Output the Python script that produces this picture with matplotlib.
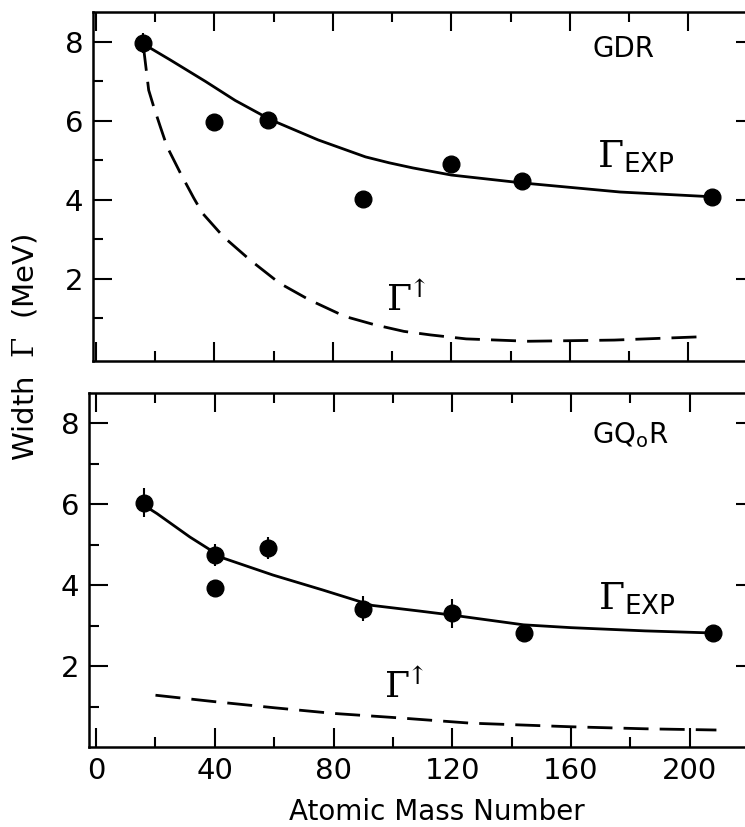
import matplotlib
matplotlib.use("Agg")
import matplotlib.pyplot as plt
from matplotlib.ticker import MultipleLocator, FixedLocator

plt.rcParams['font.family'] = ['DejaVu Sans']
plt.rcParams['mathtext.fontset'] = 'dejavuserif'

# GDR panel (top)
gdr_mass = [16, 40, 58, 90, 120, 144, 208]
gdr_width = [7.98, 5.98, 6.02, 4.03, 4.92, 4.47, 4.08]
gdr_err = [0.25, 0.2, 0.12, 0.0, 0.12, 0.0, 0.0]

gdr_exp_x = [16, 25, 37, 47, 59, 75, 91, 99, 107, 120, 144, 177, 208]
gdr_exp_y = [7.95, 7.55, 7.0, 6.52, 6.03, 5.52, 5.09, 4.94, 4.81, 4.63, 4.43, 4.2, 4.08]

gdr_up_x = [16, 17.8, 19.5, 21.7, 24, 28.5, 33, 36, 43, 52, 62, 72, 84, 94, 104, 113, 125, 146, 175, 203]
gdr_up_y = [7.9, 6.78, 6.36, 5.86, 5.35, 4.68, 4.05, 3.66, 3.07, 2.48, 1.89, 1.47, 1.05, 0.84, 0.67, 0.58, 0.48, 0.42, 0.45, 0.53]

# GQoR panel (bottom)
gqr_mass = [16, 40, 40, 58, 90, 120, 144, 208]
gqr_width = [6.04, 4.75, 3.92, 4.92, 3.42, 3.3, 2.83, 2.81]
gqr_err = [0.36, 0.27, 0.2, 0.27, 0.3, 0.37, 0.2, 0.15]

gqr_exp_x = [16, 20.5, 31.6, 42.8, 59.6, 76.4, 93, 109, 120, 144, 160, 185, 207]
gqr_exp_y = [5.98, 5.77, 5.19, 4.67, 4.25, 3.88, 3.5, 3.36, 3.26, 3.02, 2.95, 2.87, 2.82]

gqr_up_x = [20, 40, 60, 80, 102, 126, 160, 185, 209]
gqr_up_y = [1.28, 1.12, 0.97, 0.83, 0.72, 0.59, 0.5, 0.45, 0.42]

x_ticks = [0, 40, 80, 120, 160, 200]
y_ticks = [2, 4, 6, 8]

W, H = 745, 827
fig = plt.figure(figsize=(W / 100, H / 100), dpi=100)
ax1 = fig.add_axes([93 / W, 1 - 361 / H, (755 - 93) / W, (361 - 12) / H])
ax2 = fig.add_axes([89 / W, 1 - 747 / H, (755 - 89) / W, (747 - 393) / H])


def style(ax, xlim, ylim, labels):
    ax.set_xlim(*xlim)
    ax.set_ylim(*ylim)
    ax.xaxis.set_major_locator(FixedLocator(x_ticks))
    ax.xaxis.set_minor_locator(MultipleLocator(20))
    ax.yaxis.set_major_locator(FixedLocator(y_ticks))
    ax.yaxis.set_minor_locator(FixedLocator([1, 3, 5, 7]))
    ax.tick_params(which='both', direction='in', top=True, right=True, width=1.5)
    ax.tick_params(which='major', length=14, labelsize=21, pad=7)
    ax.tick_params(which='minor', length=7)
    if not labels:
        ax.tick_params(axis='x', labelbottom=False)
    for s in ax.spines.values():
        s.set_linewidth(1.8)


# top panel
ax1.plot(gdr_exp_x, gdr_exp_y, '-', color='k', lw=2)
ax1.plot(gdr_up_x, gdr_up_y, color='k', lw=2, dashes=(9, 4))
ax1.errorbar(gdr_mass, gdr_width, yerr=gdr_err, fmt='o', color='k', ms=12,
             elinewidth=1.5, capsize=0)
ax1.text(178, 7.82, 'GDR', fontsize=20, ha='center', va='center')
ax1.text(169, 5.1, r'$\Gamma_\mathsf{EXP}$', fontsize=27, ha='left', va='center')
ax1.text(98, 1.45, r'$\Gamma^{\!\!\uparrow}$', fontsize=26, ha='left', va='center')
style(ax1, (-1, 222.5), (-0.08, 8.76), False)

# bottom panel
ax2.plot(gqr_exp_x, gqr_exp_y, '-', color='k', lw=2)
ax2.plot(gqr_up_x, gqr_up_y, color='k', lw=2, dashes=(9, 4))
ax2.errorbar(gqr_mass, gqr_width, yerr=gqr_err, fmt='o', color='k', ms=12,
             elinewidth=1.5, capsize=0)
ax2.text(180, 7.7, r'GQ$_\mathregular{o}$R', fontsize=20, ha='center', va='center')
ax2.text(169, 3.65, r'$\Gamma_\mathsf{EXP}$', fontsize=27, ha='left', va='center')
ax2.text(97, 1.48, r'$\Gamma^{\!\!\uparrow}$', fontsize=26, ha='left', va='center')
style(ax2, (-2.4, 222), (0, 8.75), True)

fig.text(25 / W, 1 - 347 / H, r'Width  $\Gamma$  (MeV)', rotation=90,
         ha='center', va='center', fontsize=21)
fig.text(437 / W, 1 - 820 / H, 'Atomic Mass Number', ha='center',
         va='baseline', fontsize=20)

fig.savefig('out.png', dpi=100)
